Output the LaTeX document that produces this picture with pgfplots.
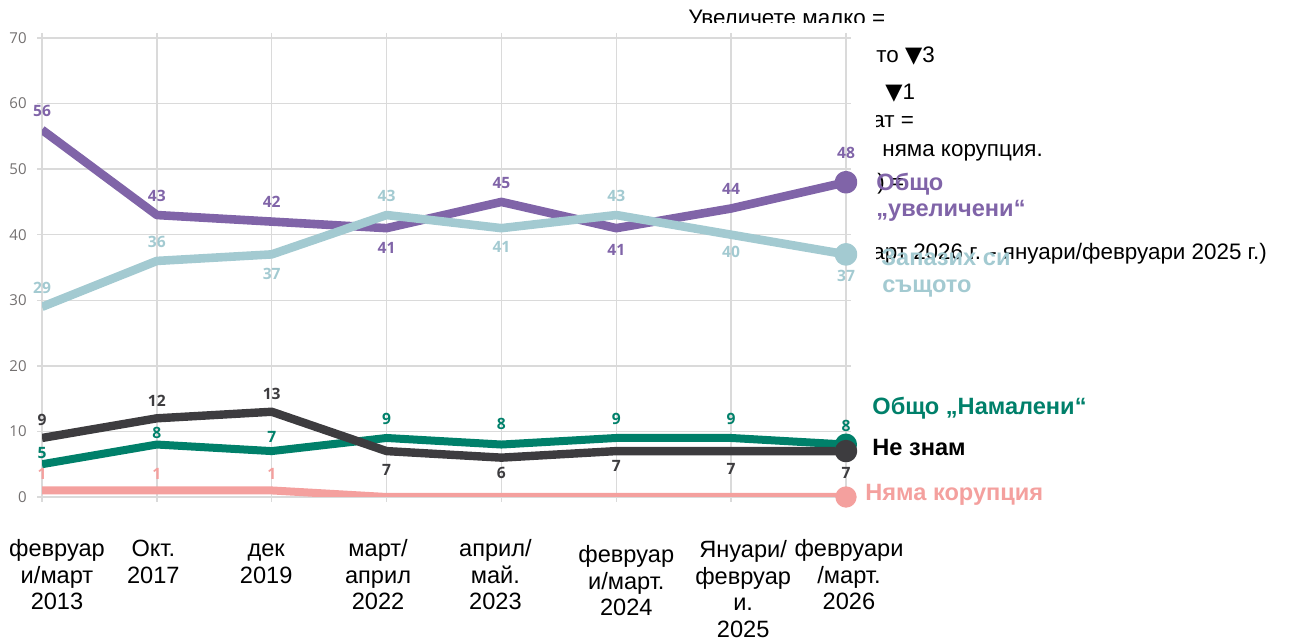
\documentclass[border=0pt]{standalone}
\usepackage{pgfplots}
\pgfplotsset{compat=1.18}
\usepackage{pgfplotstable}
\usepackage{fontspec}
\setmainfont{Liberation Sans}
\newfontfamily\osans{Open Sans}
\newfontfamily\djv{DejaVu Sans}
\definecolor{cpur}{HTML}{8064A8}
\definecolor{cblu}{HTML}{A3CAD1}
\definecolor{cdrk}{HTML}{3D3C3F}
\definecolor{cgrn}{HTML}{00806A}
\definecolor{cpnk}{HTML}{F4A09E}
\definecolor{cgrid}{HTML}{DADADA}
\definecolor{ctick}{HTML}{737070}

% label offset (px above the point) and label text
\protected\def\LB#1#2{\raisebox{\dimexpr #1pt/2-2.8pt\relax}[0pt][0pt]{#2}}

\pgfplotstableread{
x y lab
0 56 \LB{19}{56}
1 43 \LB{19}{43}
2 42 \LB{19.5}{42}
3 41 \LB{-20}{41}
4 45 \LB{19.5}{45}
5 41 \LB{-22}{41}
6 44 \LB{19.5}{44}
7 48 \LB{29}{48}
}\tpur
\pgfplotstableread{
x y lab
0 29 \LB{19}{29}
1 36 \LB{19}{36}
2 37 \LB{-19.5}{37}
3 43 \LB{19}{43}
4 41 \LB{-19}{41}
5 43 \LB{19}{43}
6 40 \LB{-17.5}{40}
7 37 \LB{-21.5}{37}
}\tblu
\pgfplotstableread{
x y lab
0 9 \LB{18}{9}
1 12 \LB{17}{12}
2 13 \LB{18}{13}
3 7 \LB{-19}{7}
4 6 \LB{-15.5}{6}
5 7 \LB{-15}{7}
6 7 \LB{-18}{7}
7 7 \LB{-22}{7}
}\tdrk
\pgfplotstableread{
x y lab
0 5 \LB{11}{5}
1 8 \LB{11.5}{8}
2 7 \LB{14}{7}
3 9 \LB{19}{9}
4 8 \LB{21}{8}
5 9 \LB{19}{9}
6 9 \LB{19}{9}
7 8 \LB{18.5}{8}
}\tgrn
\pgfplotstableread{
x y lab
0 1 \LB{17}{1}
1 1 \LB{17}{1}
2 1 \LB{17}{1}
3 0 {}
4 0 {}
5 0 {}
6 0 {}
7 0 {}
}\tpnk

\newcommand\lblf{\osans\bfseries\fontsize{7.8}{9}\selectfont}
\newcommand\xl[3]{\hbox{\kern#1\raisebox{-#2}{\begin{tabular}[t]{@{}c@{}}#3\end{tabular}}\kern-#1}}

\begin{document}
\begin{tikzpicture}
\useasboundingbox (0,0) rectangle (648.5pt,320.5pt);
% hidden text box fragments
\begin{scope}[x=0.5pt,y=-0.5pt,shift={(0,320.5pt)}]
  \clip (0,0) rectangle (1297,23) (876,23) rectangle (1297,641);
  \begin{scope}[every node/.style={anchor=base west, inner sep=0pt, font=\fontsize{11.2}{13}\selectfont}]
  \node at (688,26) {Увеличете малко =};
  \node at (876,63) {то {\djv ▼}3};
  \node at (885,100) {{\djv ▼}1};
  \node at (872,128) {ат =};
  \node at (882,157) {няма корупция.};
  \node at (877,190) {) =};
  \node at (872,260) {арт 2026 г. - януари/февруари 2025 г.)};
  \end{scope}
\end{scope}

\begin{axis}[
  at={(21pt,72pt)}, anchor=south west,
  scale only axis, width=402pt, height=229.5pt,
  xmin=0, xmax=7, ymin=0, ymax=70,
  xtick={0,...,7}, ytick={0,10,...,70},
  xmajorgrids, ymajorgrids,
  grid style={draw=cgrid, line width=0.7pt},
  axis line style={draw=cgrid, line width=0.7pt},
  major tick style={draw=cgrid, line width=0.7pt},
  tick align=outside, major tick length=2.5pt,
  /pgf/number format/assume math mode=true,
  yticklabel style={font=\osans\fontsize{7.5}{9}\selectfont, text=ctick, anchor=east, inner sep=0pt, xshift=-5pt},
  xticklabel style={font=\fontsize{11.8}{13.25}\selectfont, anchor=base, inner sep=0pt, yshift=-27.5pt},
  xticklabels={
    {\xl{7.5pt}{0pt}{февруар\\и/март\\2013}},
    {\xl{-1.75pt}{0pt}{Окт.\\2017}},
    {\xl{-2.75pt}{0pt}{дек\\2019}},
    {\xl{-4.25pt}{0pt}{март/\\април\\2022}},
    {\xl{-3pt}{0pt}{април/\\май.\\2023}},
    {\xl{5pt}{3pt}{февруар\\и/март.\\2024}},
    {\xl{6pt}{0.5pt}{Януари/\\февруар\\и.\\2025}},
    {\xl{1.5pt}{0pt}{февруари\\/март.\\2026}}},
  ln/.style={draw=#1, line width=4.3pt, line join=round, mark=*, mark indices={8}, mark size=3.5pt, mark options={fill=#1, draw=none}},
  lbl/.style={draw=none, mark=none, nodes near coords={\pgfplotspointmeta}, point meta=explicit symbolic,
    nodes near coords style={anchor=center, text=#1, font=\lblf, inner sep=0pt}},
]
\addplot[ln=cpnk, line width=4pt, mark size=3.3pt] table[x=x,y=y]{\tpnk};
\addplot[ln=cgrn, line width=4pt] table[x=x,y=y]{\tgrn};
\addplot[ln=cdrk, line width=4.2pt] table[x=x,y=y]{\tdrk};
\addplot[ln=cpur] table[x=x,y=y]{\tpur};
\addplot[ln=cblu] table[x=x,y=y]{\tblu};

\addplot[lbl=cpnk] table[x=x,y=y,meta=lab]{\tpnk};
\addplot[lbl=cgrn] table[x=x,y=y,meta=lab]{\tgrn};
\addplot[lbl=cdrk] table[x=x,y=y,meta=lab]{\tdrk};
\addplot[lbl=cpur] table[x=x,y=y,meta=lab]{\tpur};
\addplot[lbl=cblu] table[x=x,y=y,meta=lab]{\tblu};
\end{axis}

\begin{scope}[x=0.5pt,y=-0.5pt,shift={(0,320.5pt)}, every node/.style={anchor=base west, inner sep=0pt, font=\bfseries\fontsize{11.8}{13}\selectfont}]
  \node[text=cpur] at (876,191) {Общо};
  \node[text=cpur] at (876,217) {„увеличени“};
  \node[text=cblu] at (881,266) {Запазих си};
  \node[text=cblu] at (882,293) {същото};
  \node[text=cgrn] at (872,415) {Общо „Намалени“};
  \node[text=black] at (872,456) {Не знам};
  \node[text=cpnk] at (865,501) {Няма корупция};
\end{scope}
\end{tikzpicture}
\end{document}
